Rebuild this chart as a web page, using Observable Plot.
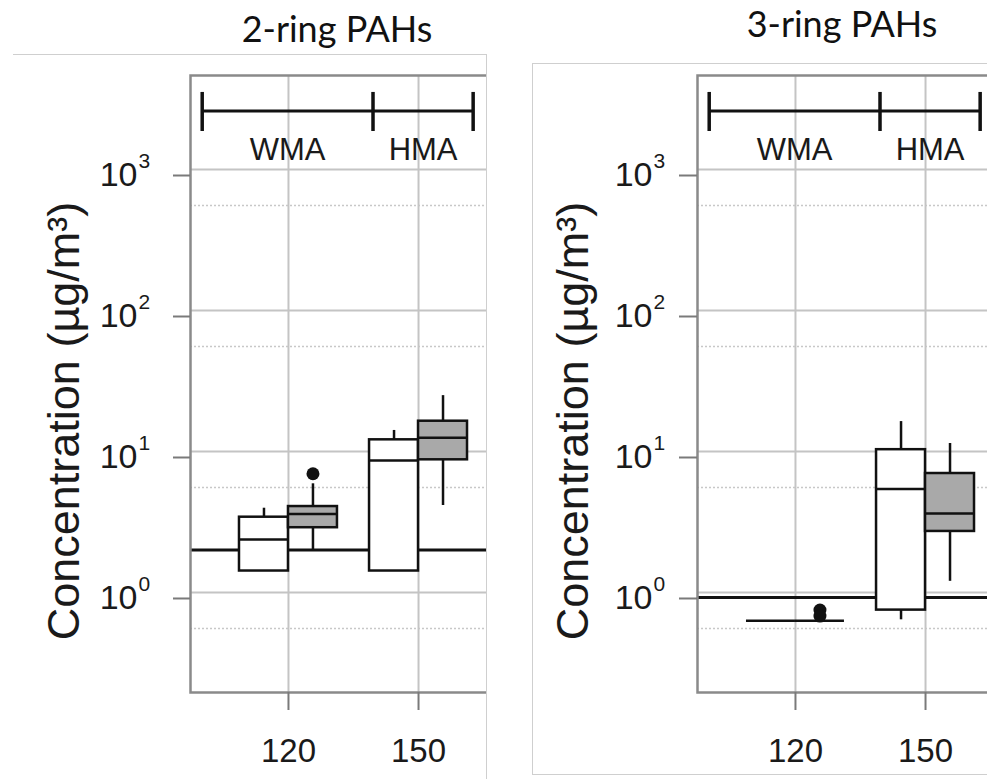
<!DOCTYPE html>
<html>
<head>
<meta charset="utf-8">
<script src="https://cdn.jsdelivr.net/npm/d3@7"></script>
<script src="https://cdn.jsdelivr.net/npm/@observablehq/plot@0.6"></script>
<style>
  html, body { margin: 0; padding: 0; background: #fff; }
  #page { position: relative; width: 987px; height: 779px; overflow: hidden; font-family: "Liberation Sans", Arial, sans-serif; }
  .title { position: absolute; font-family: Lato, "Open Sans", sans-serif; font-size: 36px; color: #111; transform: translateX(-50%); white-space: nowrap; line-height: 1; }
  .panel { position: absolute; box-sizing: border-box; overflow: hidden; border: 0 solid #cfcfcf; background: #fff; }
  .panel svg { position: absolute; left: 0; top: 0; max-width: none !important; }
</style>
</head>
<body>
<div id="page">
  <div class="title" id="t1" style="left:337px; top:10px;">2-ring PAHs</div>
  <div class="title" id="t2" style="left:842px; top:5px;">3-ring PAHs</div>
  <div class="panel" id="p1" style="left:13px; top:54px; width:474px; height:740px; border-top-width:1px; border-right-width:1px;"></div>
  <div class="panel" id="p2" style="left:532px; top:63px; width:460px; height:712px; border-top-width:1px; border-left-width:1px; border-bottom-width:1px;"></div>
</div>
<script>
// ---------- data ----------
const temps = [120, 120, 150, 150];
const series = ["S1", "S2", "S1", "S2"];          // S1 = open boxes, S2 = grey boxes

// 2-ring PAHs (µg/m³)
const ring2Low    = [1.42, 1.99, 1.42, 4.14];
const ring2Q1     = [1.42, 2.88, 1.42, 8.73];
const ring2Median = [2.38, 3.60, 8.63, 12.5];
const ring2Q3     = [3.42, 4.07, 12.1, 16.4];
const ring2High   = [3.96, 5.90, 14.1, 24.9];
const ring2OutTemp   = [120];
const ring2OutSeries = ["S2"];
const ring2OutValue  = [6.95];
const ring2Ref = 2.0;

// 3-ring PAHs (µg/m³)
const ring3Low    = [0.63, 0.63, 0.64, 1.20];
const ring3Q1     = [0.63, 0.63, 0.75, 2.71];
const ring3Median = [0.63, 0.63, 5.41, 3.63];
const ring3Q3     = [0.63, 0.63, 10.3, 6.98];
const ring3High   = [0.63, 0.63, 16.3, 11.4];
const ring3OutTemp   = [120, 120];
const ring3OutSeries = ["S2", "S2"];
const ring3OutValue  = [0.75, 0.68];
const ring3Ref = 0.92;

// axes
const xTicks = [120, 150];
const yTicks = [1, 10, 100, 1000];
const yMinorTicks = [0.556, 5.56, 55.6, 556];
const xDomain = [97.4, 172.6];
const yDomain = [0.1953, 4642];
const yLabel = "Concentration (µg/m³)";

// mix-type brackets
const bracketLabels = ["WMA", "HMA"];
const bracketStart  = [100.1, 139.5];
const bracketEnd    = [139.5, 162.6];

// ---------- helpers ----------
const boxHalf = 11.3; // dodge width in x units
function rows(low, q1, med, q3, high) {
  return temps.map((t, i) => {
    const x1 = series[i] === "S1" ? t - boxHalf : t;
    const x2 = series[i] === "S1" ? t : t + boxHalf;
    return {temp: t, series: series[i], x1, x2, xc: (x1 + x2) / 2,
            low: low[i], q1: q1[i], median: med[i], q3: q3[i], high: high[i]};
  });
}
function outRows(ts, ss, vs) {
  return ts.map((t, i) => ({temp: t, series: ss[i], value: vs[i],
    xc: ss[i] === "S1" ? t - boxHalf / 2 : t + boxHalf / 2}));
}
const brackets = bracketLabels.map((l, i) => ({label: l, start: bracketStart[i], end: bracketEnd[i], mid: (bracketStart[i] + bracketEnd[i]) / 2}));
const capXs = Array.from(new Set(bracketStart.concat(bracketEnd)));

function panel(boxes, outs, ref, o) {
  const plotW = 326, plotH = 617;
  return Plot.plot({
    width: o.left + plotW + 10,
    height: o.top + plotH + 80,
    marginLeft: o.left, marginTop: o.top, marginRight: 10, marginBottom: 80,
    style: {fontFamily: "'Liberation Sans', Arial, sans-serif", background: "transparent", color: "#1a1a1a"},
    x: {domain: xDomain},
    y: {type: "log", domain: yDomain},
    marks: [
      Plot.gridY(yMinorTicks, {stroke: "#c8c8c8", strokeOpacity: 1, strokeWidth: 1.5, strokeDasharray: "2,2"}),
      Plot.gridY(yTicks, {stroke: "#c4c4c4", strokeOpacity: 1, strokeWidth: 2}),
      Plot.gridX(xTicks, {stroke: "#c4c4c4", strokeOpacity: 1, strokeWidth: 2}),
      // bracket annotation
      Plot.ruleY(brackets, {y: () => 2600, x1: "start", x2: "end", stroke: "#111", strokeWidth: 3}),
      Plot.ruleX(capXs, {x: d => d, y1: 1860, y2: 3520, stroke: "#111", strokeWidth: 3.5}),
      Plot.text(brackets, {x: "mid", y: () => 1365, text: "label", fontSize: 31, fill: "#1a1a1a", letterSpacing: -1}),
      // reference level
      Plot.ruleY([ref], {stroke: "#111", strokeWidth: 3}),
      // whiskers
      Plot.ruleX(boxes, {x: "xc", y1: "q3", y2: "high", stroke: "#111", strokeWidth: 2.5}),
      Plot.ruleX(boxes, {x: "xc", y1: "low", y2: "q1", stroke: "#111", strokeWidth: 2.5}),
      // boxes
      Plot.rect(boxes, {x1: "x1", x2: "x2", y1: "q1", y2: "q3", fill: d => d.series === "S1" ? "#ffffff" : "#a9a9a9", stroke: "#111", strokeWidth: 2.5}),
      Plot.ruleY(boxes, {y: "median", x1: "x1", x2: "x2", stroke: "#111", strokeWidth: 2.5}),
      Plot.dot(outs, {x: "xc", y: "value", r: 6.5, fill: "#111", stroke: "none"}),
      Plot.frame({stroke: "#8a8a8a", strokeWidth: 2.5}),
      // axes
      Plot.axisX({ticks: xTicks, tickSize: 18, tickPadding: 28, fontSize: 33, stroke: "#7a7a7a", strokeWidth: 2, fill: "#1a1a1a", label: null}),
      Plot.axisY({ticks: yTicks, tickSize: o.tick, tickPadding: o.pad, tickFormat: () => "10", fontSize: 34, dy: 6, stroke: "#7a7a7a", strokeWidth: 2, fill: "#1a1a1a", label: null}),
      Plot.text(yTicks, {y: d => d, frameAnchor: "left", text: d => String(Math.round(Math.log10(d))), textAnchor: "start", dx: o.expDx, dy: -8, fontSize: 21, fill: "#1a1a1a"}),
      Plot.text([yLabel], {frameAnchor: "left", text: d => d, textAnchor: "middle", lineAnchor: "middle", rotate: -90, dx: o.labelDx, dy: 37, fontSize: 45, fill: "#1a1a1a"})
    ]
  });
}

document.getElementById("p1").appendChild(
  panel(rows(ring2Low, ring2Q1, ring2Median, ring2Q3, ring2High),
        outRows(ring2OutTemp, ring2OutSeries, ring2OutValue), ring2Ref,
        {left: 177, top: 20, tick: 17, pad: 36, expDx: -52, labelDx: -126}));
document.getElementById("p2").appendChild(
  panel(rows(ring3Low, ring3Q1, ring3Median, ring3Q3, ring3High),
        outRows(ring3OutTemp, ring3OutSeries, ring3OutValue), ring3Ref,
        {left: 164, top: 11, tick: 18, pad: 27, expDx: -44, labelDx: -124}));
</script>
</body>
</html>
